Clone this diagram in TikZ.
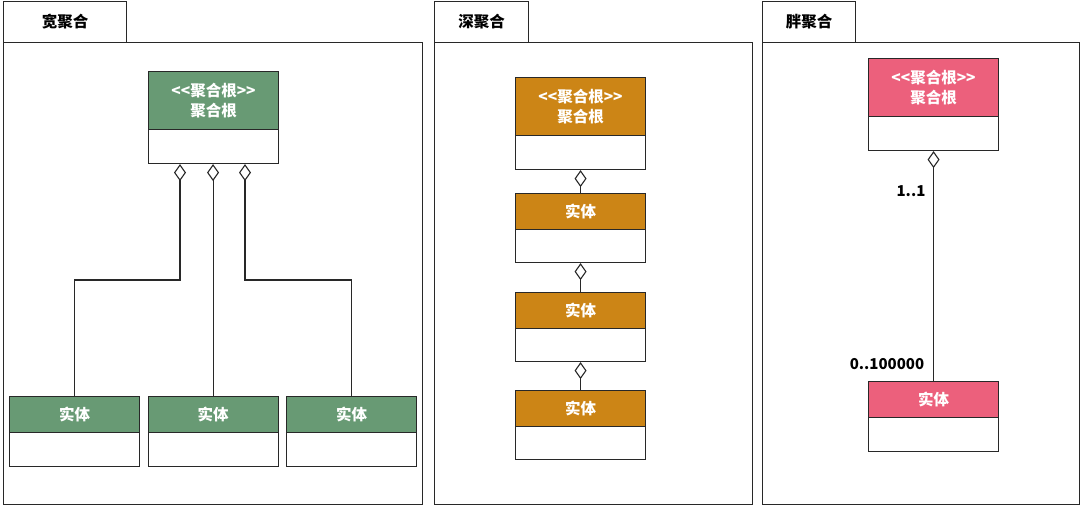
\documentclass[tikz,border=0pt]{standalone}
\usepackage{fontspec}
\setmainfont{Noto Sans CJK SC}
\usetikzlibrary{arrows.meta}
\definecolor{lc}{RGB}{40,40,40}
\definecolor{gr}{RGB}{104,154,116}
\definecolor{og}{RGB}{204,133,22}
\definecolor{pk}{RGB}{236,96,124}
\begin{document}
\begin{tikzpicture}[x=1pt,y=-1pt,
  tab/.style={draw=lc, line width=1.1pt, anchor=north west, inner sep=0pt, font=\bfseries\fontsize{15.5}{18}\selectfont},
  frame/.style={draw=lc, line width=1.1pt, anchor=north west, inner sep=0pt},
  hdr/.style={draw=lc, fill=#1, line width=1.1pt, minimum width=130pt, inner sep=0pt, anchor=north west, text=white, font=\bfseries\fontsize{15.5}{20}\selectfont, align=center},
  bdy/.style={draw=lc, fill=white, line width=1.1pt, minimum width=130pt, inner sep=0pt, anchor=north west},
  agg/.style={draw=lc, line width=1.1pt, -{Diamond[open,length=17pt,width=12pt]}},
  mult/.style={font=\bfseries\fontsize{15}{17}\selectfont, inner sep=0pt}
]
\useasboundingbox (0,0) rectangle (1080,506);
\fill[white] (0,0) rectangle (1080,506);

% ---------- panel 1: wide aggregate ----------
\node[frame, minimum width=419pt, minimum height=462pt] (f1) at (3,42) {};
\node[tab, minimum width=123pt, minimum height=41pt] (t1) at (3,1) {宽聚合};
\node[hdr=gr, minimum height=58pt] (r1h) at (148,71) {<{}<聚合根>{}>\\聚合根};
\node[bdy, minimum height=34pt] (r1b) at (148,129) {};
\node[hdr=gr, minimum height=36pt] (c1h) at (9,396) {实体};
\node[bdy, minimum height=34pt] (c1b) at (9,432) {};
\node[hdr=gr, minimum height=36pt] (c2h) at (147.5,396) {实体};
\node[bdy, minimum height=34pt] (c2b) at (147.5,432) {};
\node[hdr=gr, minimum height=36pt] (c3h) at (286,396) {实体};
\node[bdy, minimum height=34pt] (c3b) at (286,432) {};
\coordinate (k1) at (180,280);
\coordinate (k3) at (245,280);
\draw[agg] (c1h.north) |- (k1) -- (k1 |- r1b.south);
\draw[agg] (c2h.north) -- (c2h.north |- r1b.south);
\draw[agg] (c3h.north) |- (k3) -- (k3 |- r1b.south);

% ---------- panel 2: deep aggregate ----------
\node[frame, minimum width=318pt, minimum height=462pt] (f2) at (434,42) {};
\node[tab, minimum width=94pt, minimum height=41pt] (t2) at (434,1) {深聚合};
\node[hdr=og, minimum height=58pt] (r2h) at (515,77) {<{}<聚合根>{}>\\聚合根};
\node[bdy, minimum height=34pt] (r2b) at (515,135) {};
\node[hdr=og, minimum height=36pt] (d1h) at (515,193) {实体};
\node[bdy, minimum height=33pt] (d1b) at (515,229) {};
\node[hdr=og, minimum height=36pt] (d2h) at (515,292) {实体};
\node[bdy, minimum height=33pt] (d2b) at (515,328) {};
\node[hdr=og, minimum height=36pt] (d3h) at (515,390) {实体};
\node[bdy, minimum height=33pt] (d3b) at (515,426) {};
\draw[agg] (d1h.north) -- (r2b.south);
\draw[agg] (d2h.north) -- (d1b.south);
\draw[agg] (d3h.north) -- (d2b.south);

% ---------- panel 3: fat aggregate ----------
\node[frame, minimum width=317pt, minimum height=462pt] (f3) at (762,42) {};
\node[tab, minimum width=93pt, minimum height=41pt] (t3) at (762,1) {胖聚合};
\node[hdr=pk, minimum height=58pt] (r3h) at (868,58) {<{}<聚合根>{}>\\聚合根};
\node[bdy, minimum height=34pt] (r3b) at (868,116) {};
\node[hdr=pk, minimum height=36pt] (e1h) at (868,381) {实体};
\node[bdy, minimum height=34pt] (e1b) at (868,417) {};
\draw[agg] (e1h.north) -- (r3b.south);
\node[mult] (m1) at (911,191) {1..1};
\node[mult] (m2) at (887,364) {0..100000};
\end{tikzpicture}
\end{document}
